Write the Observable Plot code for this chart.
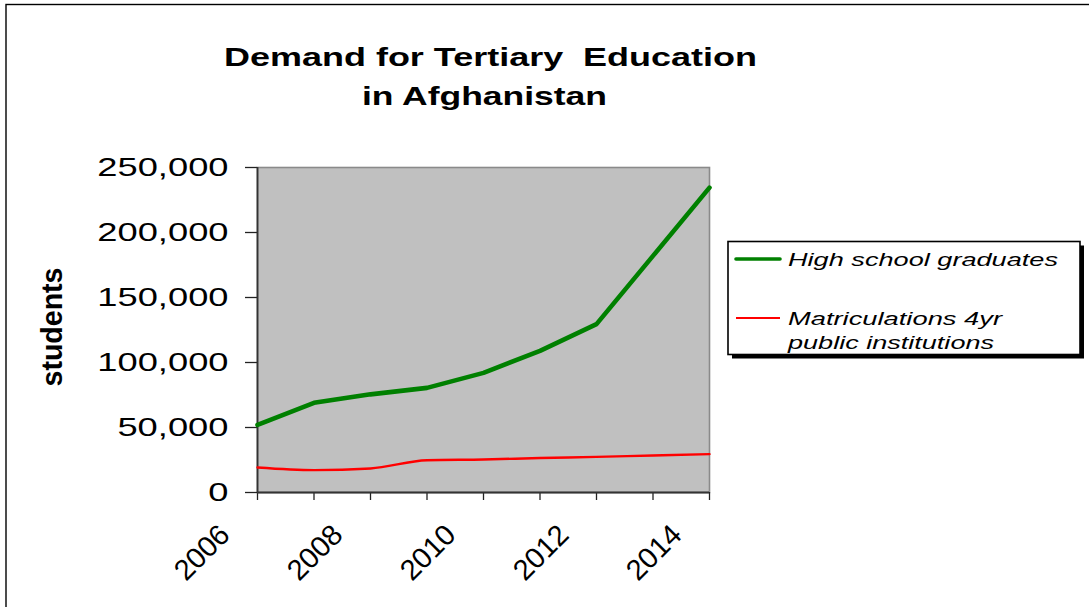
<!DOCTYPE html>
<html>
<head>
<meta charset="utf-8">
<script src="https://cdn.jsdelivr.net/npm/d3@7"></script>
<script src="https://cdn.jsdelivr.net/npm/@observablehq/plot@0.6"></script>
<style>
  html, body { margin: 0; padding: 0; background: #fff; }
  #wrap { position: relative; width: 1089px; height: 607px; overflow: hidden; background: #fff;
          font-family: "Liberation Sans", Arial, sans-serif; }
  #wrap > svg { position: absolute; left: 0; top: 0; }
</style>
</head>
<body>
<div id="wrap"></div>
<script>
// ---- data ----
const years = [2006, 2007, 2008, 2009, 2010, 2011, 2012, 2013, 2014];
const highSchoolGraduates = [52000, 69000, 75500, 80500, 92000, 109000, 129500, 182000, 234500];
const matriculations = [19200, 17200, 18500, 24800, 25400, 26500, 27400, 28500, 29500];
const xTickLabels = [2006, 2008, 2010, 2012, 2014];
const yTicks = [0, 50000, 100000, 150000, 200000, 250000];
const titleLines = ["Demand for Tertiary  Education", "in Afghanistan"];
const yLabel = "students";
const seriesNames = ["High school graduates", "Matriculations 4yr", "public institutions"];

const rows = years.map((year, i) => ({year, hs: highSchoolGraduates[i], mat: matriculations[i]}));

const FONT = "'Liberation Sans', Arial, sans-serif";

const chart = Plot.plot({
  width: 1089,
  height: 607,
  marginLeft: 257,
  marginRight: 380,
  marginTop: 167,
  marginBottom: 115,
  style: {fontFamily: FONT, color: "#000", background: "transparent", overflow: "visible"},
  x: {domain: [2006, 2014]},
  y: {domain: [0, 250000]},
  marks: [
    Plot.frame({fill: "#C0C0C0", stroke: null}),
    Plot.frame({stroke: "#8a8a8a", strokeWidth: 1.6}),
    Plot.axisY({ticks: yTicks, tickSize: 12, tickPadding: 17, tickFormat: d3.format(","),
                fontSize: 26.5, label: null, stroke: "#222", strokeWidth: 1.3}),
    Plot.axisX({ticks: years, tickSize: 8, tickPadding: 0, tickFormat: () => "",
                label: null, stroke: "#222", strokeWidth: 1.3}),
    Plot.ruleX([2006], {stroke: "#333", strokeWidth: 1.8}),
    Plot.ruleY([0], {stroke: "#333", strokeWidth: 1.8}),
    Plot.line(rows, {x: "year", y: "mat", stroke: "#FF0000", strokeWidth: 2.4, curve: "monotone-x"}),
    Plot.line(rows, {x: "year", y: "hs", stroke: "#008000", strokeWidth: 4.6}),
    Plot.text(xTickLabels, {
      x: d => d,
      frameAnchor: "bottom",
      text: d => String(d),
      dx: -26, dy: 44, rotate: -45,
      textAnchor: "end", lineAnchor: "bottom",
      fontSize: 29, fill: "#000", ariaLabel: "x-labels"
    })
  ]
});

const wrap = document.getElementById("wrap");
wrap.appendChild(chart);

// stretch y tick labels horizontally like the reference rendering
function stretch(sel, k) {
  sel.each(function() {
    const len = this.getComputedTextLength();
    if (len > 0) {
      this.setAttribute("textLength", (len * k).toFixed(1));
      this.setAttribute("lengthAdjust", "spacingAndGlyphs");
    }
  });
}
stretch(d3.select(chart).selectAll('g[aria-label="y-axis tick label"] text'), 1.37);

// ---- overlay: frame, title, y label, legend ----
const ov = d3.create("svg").attr("width", 1089).attr("height", 607)
  .style("font-family", FONT).style("pointer-events", "none");

ov.append("rect").attr("x", 6).attr("y", 4.5).attr("width", 1200).attr("height", 800)
  .attr("fill", "none").attr("stroke", "#000").attr("stroke-width", 1.4);

const titleSpec = [
  {text: titleLines[0], x: 490.5, y: 66, len: 533},
  {text: titleLines[1], x: 484.5, y: 105, len: 245}
];
titleSpec.forEach(t => {
  ov.append("text").attr("x", t.x).attr("y", t.y).attr("text-anchor", "middle")
    .attr("xml:space", "preserve").style("white-space", "pre")
    .attr("font-size", 26.5).attr("font-weight", "bold").attr("fill", "#000")
    .attr("textLength", t.len).attr("lengthAdjust", "spacingAndGlyphs").text(t.text);
});

ov.append("text").attr("transform", "translate(62,327) rotate(-90)")
  .attr("text-anchor", "middle").attr("font-size", 30).attr("font-weight", "bold")
  .attr("textLength", 119).attr("lengthAdjust", "spacingAndGlyphs").text(yLabel);

// legend
const lg = ov.append("g");
lg.append("rect").attr("x", 732).attr("y", 245.5).attr("width", 352).attr("height", 113).attr("fill", "#000");
lg.append("rect").attr("x", 728).attr("y", 241.5).attr("width", 352).attr("height", 113)
  .attr("fill", "#fff").attr("stroke", "#000").attr("stroke-width", 1.6);
lg.append("line").attr("x1", 736).attr("x2", 780).attr("y1", 259).attr("y2", 259)
  .attr("stroke", "#008000").attr("stroke-width", 3.6).attr("stroke-linecap", "round");
lg.append("line").attr("x1", 736).attr("x2", 780).attr("y1", 318).attr("y2", 318)
  .attr("stroke", "#FF0000").attr("stroke-width", 2);
const legendText = [
  {text: seriesNames[0], y: 265.5, len: 270},
  {text: seriesNames[1], y: 324.5, len: 214},
  {text: seriesNames[2], y: 349, len: 206}
];
legendText.forEach(t => {
  lg.append("text").attr("x", 788).attr("y", t.y).attr("font-size", 18.8)
    .attr("font-style", "italic").attr("fill", "#000")
    .attr("textLength", t.len).attr("lengthAdjust", "spacingAndGlyphs").text(t.text);
});

wrap.appendChild(ov.node());
</script>
</body>
</html>
